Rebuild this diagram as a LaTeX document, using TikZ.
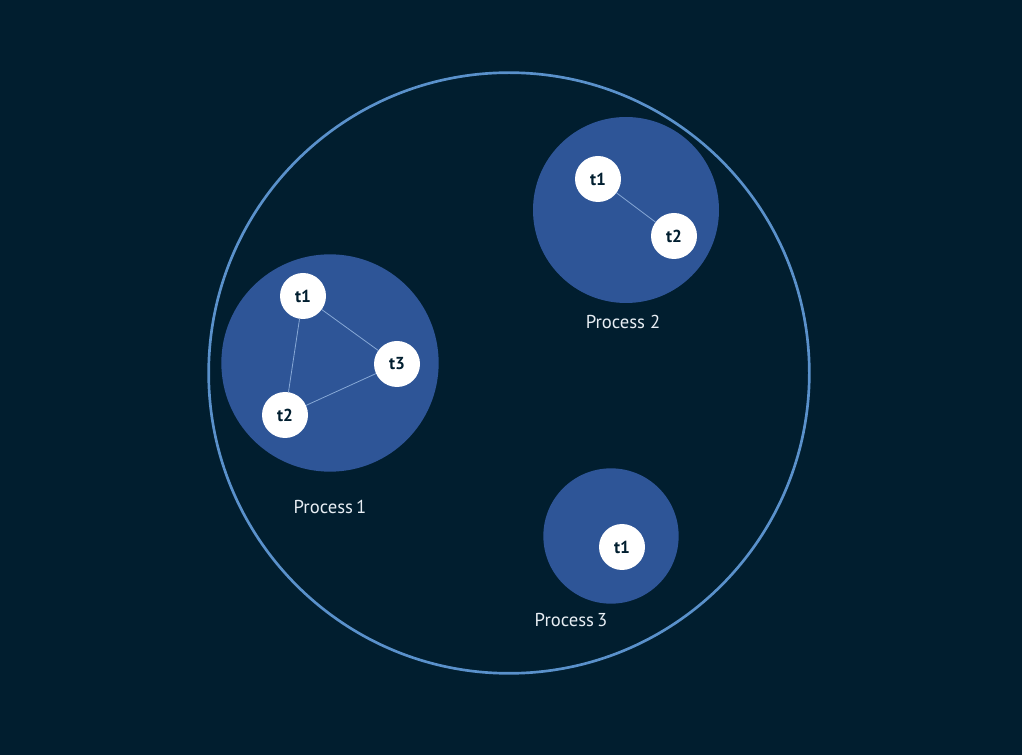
\documentclass[tikz,border=0pt]{standalone}
\usepackage{fontspec}
\setmainfont{PT Sans}
\definecolor{bgnavy}{RGB}{1,30,47}
\definecolor{procblue}{RGB}{46,85,151}
\definecolor{ringblue}{RGB}{90,145,203}
\definecolor{linkblue}{RGB}{135,168,214}
\definecolor{labelwhite}{RGB}{232,238,244}
\begin{document}
\begin{tikzpicture}[x=0.75pt,y=0.75pt,yscale=-1,xscale=1,
  proc/.style={circle,fill=procblue,draw=none,inner sep=0pt},
  thread/.style={circle,fill=white,draw=none,minimum size=34.5pt,inner sep=0pt,font=\bfseries\fontsize{13}{13}\selectfont,text=bgnavy},
  plabel/.style={inner sep=0.75pt,font=\fontsize{14}{14}\selectfont,text=labelwhite},
  link/.style={draw=linkblue,line width=0.6pt}]
%Background
\fill [bgnavy] (0,0) rectangle (1022,755);
%Shape: Circle (outer)
\node [circle,draw=ringblue,line width=2pt,minimum size=450.5pt,inner sep=0pt] (host) at (509,373) {};

%Shape: Process 1
\node [proc,minimum size=163pt] (p1) at (330,363) {};
\node [thread] (p1t1) at (303,296) {t1};
\node [thread] (p1t3) at (397,364) {t3};
\node [thread] (p1t2) at (285,415) {t2};
\draw [link] (p1t1) -- (p1t3);
\draw [link] (p1t1) -- (p1t2);
\draw [link] (p1t2) -- (p1t3);

%Shape: Process 2
\node [proc,minimum size=139.5pt] (p2) at (626,210) {};
\node [thread] (p2t1) at (598,179) {t1};
\node [thread] (p2t2) at (674,236) {t2};
\draw [link] (p2t1) -- (p2t2);

%Shape: Process 3
\node [proc,minimum size=101.5pt] (p3) at (611,536) {};
\node [thread] (p3t1) at (622,547) {t1};

% Text Node
\node [plabel] (p1label) at (330,507) {Process\,1};
% Text Node
\node [plabel] (p2label) at (623,322) {Process 2};
% Text Node
\node [plabel] (p3label) at (571,620) {Process\,3};
\end{tikzpicture}
\end{document}
